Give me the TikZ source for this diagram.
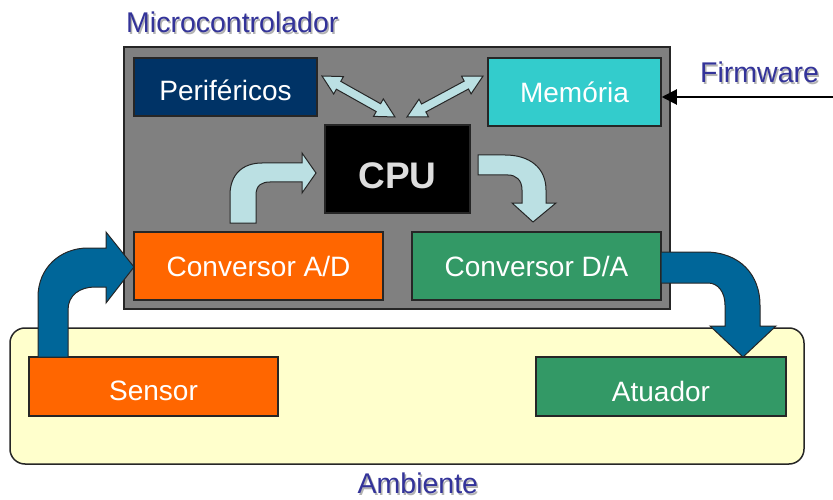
\documentclass[tikz,border=0pt]{standalone}
\usepackage{fontspec}
\setmainfont{Liberation Sans}
\usetikzlibrary{arrows.meta}
\definecolor{titleblue}{HTML}{333399}
\definecolor{boxgray}{HTML}{808080}
\definecolor{perinavy}{HTML}{003366}
\definecolor{memcyan}{HTML}{33CCCC}
\definecolor{adorange}{HTML}{FF6600}
\definecolor{dagreen}{HTML}{339966}
\definecolor{ambyellow}{HTML}{FFFFCC}
\definecolor{fatblue}{HTML}{006699}
\definecolor{lightarrow}{HTML}{BBE0E3}
\tikzset{
  blk/.style={draw=black!85, line width=1.5pt, text=white, inner sep=0pt,
    text height=20pt, text depth=0pt, font=\fontsize{28}{32}\selectfont},
  ttl/.style={text=titleblue, inner sep=0pt, anchor=base west,
    font=\fontsize{28.5}{32}\selectfont},
  shadow/.style={text=black!30, inner sep=0pt, anchor=base west,
    font=\fontsize{28.5}{32}\selectfont},
  fatarrow/.style={fill=fatblue, draw=black!85, line width=1pt},
  thinarrow/.style={fill=lightarrow, draw=black!85, line width=1pt},
}
\begin{document}
\begin{tikzpicture}[x=1pt,y=-1pt]
\useasboundingbox (0,0) rectangle (833,500);
% boxes
\node[blk, fill=boxgray, minimum width=546pt, minimum height=262pt] (micro) at (397,178) {};
\node[blk, fill=ambyellow, rounded corners=15pt, minimum width=794pt, minimum height=136pt] (amb) at (407,396) {};
\node[blk, fill=perinavy, minimum width=183pt, minimum height=58pt, text height=28pt] (peri) at (225.5,87) {Periféricos};
\node[blk, fill=memcyan, minimum width=173pt, minimum height=68pt, text height=21pt] (mem) at (574.5,92) {Memória};
\node[blk, fill=black, text=black!13, minimum width=145pt, minimum height=88pt, text height=40pt,
  font=\fontsize{37}{40}\selectfont\bfseries] (cpu) at (397.5,169) {CPU};
\node[blk, fill=adorange, minimum width=249pt, minimum height=68pt] (ad) at (258.5,266) {Conversor A/D};
\node[blk, fill=dagreen, minimum width=249pt, minimum height=68pt] (da) at (536.5,266) {Conversor D/A};
\node[blk, fill=adorange, minimum width=249pt, minimum height=59pt, text height=27pt] (sensor) at (153.5,386.5) {Sensor};
\node[blk, fill=dagreen, minimum width=250pt, minimum height=59pt, text height=29pt] (atuador) at (661,386.5) {Atuador};
% titles
\node[shadow] at (127.5,34.5) {Microcontrolador};
\node[ttl] (mctitle) at (126,33) {Microcontrolador};
\node[shadow] at (701.5,84.5) {Firmware};
\node[ttl] (fwtitle) at (700,83) {Firmware};
\node[shadow] at (359,495) {Ambiente};
\node[ttl] (ambtitle) at (357.5,493.5) {Ambiente};
% firmware input
\coordinate (fw) at (833,97);
\draw[line width=2pt, -{Triangle[length=15pt,width=15pt]}] (fw) -- (mem.east |- fw);
% fat arrows
\draw[fatarrow] (38,357) -- (38,297) .. controls (38,268) and (60,248) .. (88,248)
  -- (106,248) -- (106,232) -- (134,267) -- (106,303) -- (106,287) -- (95,287)
  .. controls (80,287) and (68,295) .. (68,310) -- (68,357) -- cycle;
\draw[fatarrow] (661,252) -- (705,252) .. controls (740,252) and (760,275) .. (760,305)
  -- (760,326) -- (776,326) -- (743,357) -- (710,326) -- (725,326) -- (725,305)
  .. controls (725,292) and (718,283) .. (708,283) -- (661,283) -- cycle;
% light arrows
\draw[thinarrow] (230,223) -- (230,195) .. controls (230,175) and (242,163) .. (262,163)
  -- (302,163) -- (302,153) -- (316,173) -- (302,193) -- (302,182) -- (270,182)
  .. controls (262,182) and (256,185) .. (256,195) -- (256,223) -- cycle;
\draw[thinarrow] (478,155) -- (505,155) .. controls (530,155) and (546,168) .. (546,190)
  -- (546,203) -- (556,203) -- (533,222) -- (512,203) -- (522,203) -- (522,190)
  .. controls (522,180) and (516,175) .. (508,175) -- (478,175) -- cycle;
\begin{scope}[shift={(322,76)}, rotate=-29.3]
\draw[thinarrow] (0,0) -- (19,10) -- (19,4.5) -- (64.7,4.5) -- (64.7,10) -- (83.7,0)
  -- (64.7,-10) -- (64.7,-4.5) -- (19,-4.5) -- (19,-10) -- cycle;
\end{scope}
\begin{scope}[shift={(407,117)}, rotate=28.3]
\draw[thinarrow] (0,0) -- (19,10) -- (19,4.5) -- (67.4,4.5) -- (67.4,10) -- (86.4,0)
  -- (67.4,-10) -- (67.4,-4.5) -- (19,-4.5) -- (19,-10) -- cycle;
\end{scope}
\end{tikzpicture}
\end{document}
